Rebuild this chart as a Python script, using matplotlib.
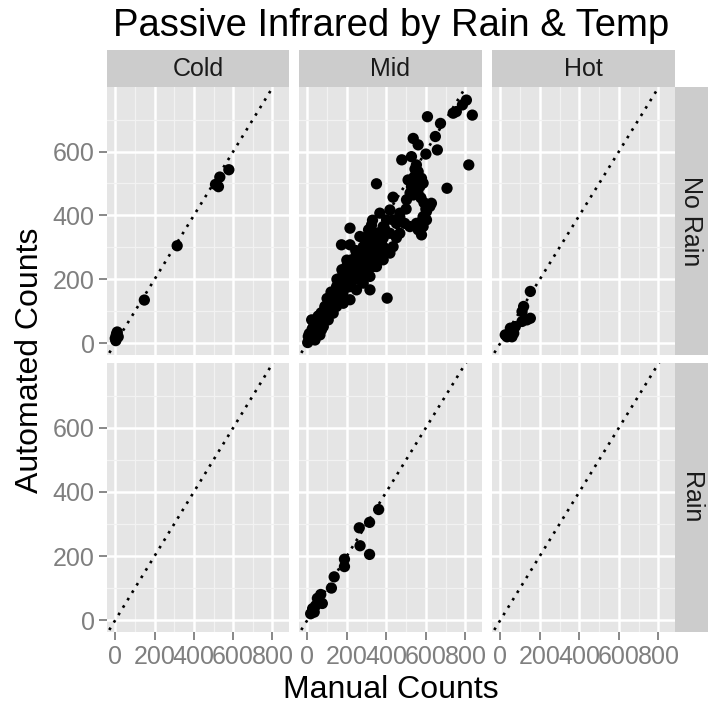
import matplotlib
matplotlib.use("Agg")
import matplotlib.pyplot as plt
import numpy as np

plt.rcParams['font.family'] = ['Liberation Sans', 'DejaVu Sans']

# ---------------- data ----------------
temps = ["Cold", "Mid", "Hot"]
rains = ["No Rain", "Rain"]

cold_norain_manual = [0, 5, 10, 15, 3, 8, 148, 315, 510, 525, 532, 578]
cold_norain_auto = [15, 25, 35, 20, 8, 30, 135, 305, 497, 490, 520, 543]

mid_norain_manual = [805, 785, 754, 738, 835, 608, 674, 648, 536, 561, 658, 600, 527, 478,
                     817, 552, 561, 544, 578, 586, 569, 549, 350, 707, 536, 434, 502, 620,
                     603, 586, 578, 552, 519, 468, 418, 401, 367, 451, 493, 325, 216, 578,
                     350, 418, 468, 384, 333, 173, 216, 434, 384, 418, 317, 367, 291, 333,
                     266, 317, 249, 224, 190, 165, 232, 207, 283, 317, 148, 182, 249, 131,
                     165, 216, 404, 114, 148, 182, 98, 131, 72, 106, 22, 47, 81, 30, 64,
                     5, 2, 39, 249, 283, 300, 266, 510, 527, 628, 603, 586, 561, 434, 384,
                     89, 123, 165, 199, 249, 199, 232, 266, 300, 333, 350, 317, 216, 114,
                     56, 81, 72, 106, 140, 182, 216, 266, 300, 350, 384, 451, 468, 500,
                     540, 555, 560, 575, 590, 600, 545, 530, 520,
                     10, 20, 25, 35, 45, 55, 62, 70, 85, 90, 100, 110, 120, 130, 140, 150,
                     160, 170, 180, 190, 200, 210, 220, 230, 240, 250, 260, 270, 280, 290,
                     300, 310, 320, 330, 345, 360, 375, 390, 120, 100, 150, 175, 200, 245,
                     290, 310, 330]
mid_norain_auto = [761, 746, 725, 720, 714, 709, 688, 647, 641, 621, 605, 592, 584, 574,
                   558, 558, 537, 521, 516, 501, 490, 480, 499, 485, 464, 457, 449, 428,
                   412, 396, 381, 375, 365, 407, 417, 386, 407, 375, 375, 370, 360, 339,
                   344, 344, 344, 329, 334, 308, 308, 302, 302, 282, 276, 282, 250, 240,
                   229, 209, 224, 261, 219, 203, 198, 188, 188, 167, 177, 167, 167, 156,
                   146, 136, 141, 130, 115, 125, 104, 94, 83, 73, 73, 57, 52, 37, 26,
                   21, 2, 10, 282, 302, 323, 334, 511, 490, 438, 386, 365, 355, 386, 365,
                   115, 136, 177, 198, 209, 240, 240, 261, 261, 261, 302, 302, 177, 94,
                   73, 73, 42, 104, 146, 188, 219, 198, 219, 240, 261, 330, 395, 420,
                   520, 500, 470, 455, 440, 420, 545, 500, 470,
                   30, 15, 45, 60, 40, 85, 50, 95, 70, 110, 85, 120, 100, 140, 120, 160,
                   140, 180, 155, 200, 175, 215, 190, 235, 215, 255, 230, 270, 245, 290,
                   265, 310, 285, 330, 300, 345, 320, 360, 160, 140, 200, 230, 260, 290,
                   330, 355, 385]

hot_norain_manual = [152, 118, 110, 152, 135, 110, 51, 68, 34, 25, 59, 76]
hot_norain_auto = [162, 115, 99, 78, 73, 68, 47, 31, 20, 26, 20, 52]

mid_rain_manual = [361, 315, 263, 267, 315, 188, 188, 136, 122, 68, 60, 76, 51, 27, 17, 35, 42]
mid_rain_auto = [345, 305, 288, 232, 205, 190, 167, 135, 100, 80, 57, 52, 68, 36, 20, 25, 45]

panel_data = {
    ("No Rain", "Cold"): (cold_norain_manual, cold_norain_auto),
    ("No Rain", "Mid"): (mid_norain_manual, mid_norain_auto),
    ("No Rain", "Hot"): (hot_norain_manual, hot_norain_auto),
    ("Rain", "Cold"): ([], []),
    ("Rain", "Mid"): (mid_rain_manual, mid_rain_auto),
    ("Rain", "Hot"): ([], []),
}

x_ticks = [0, 200, 400, 600, 800]
y_ticks = [0, 200, 400, 600]

# ---------------- layout ----------------
W, H = 708, 707
fig = plt.figure(figsize=(W / 100, H / 100), dpi=100)
fig.patch.set_facecolor("white")


def rect(x0, x1, y0, y1):
    return [x0 / W, 1 - y1 / H, (x1 - x0) / W, (y1 - y0) / H]


cols_x = [(107, 289), (299, 482), (492, 675)]
rows_y = [(87, 355), (363, 632)]
strip_top = (50, 87)
strip_right = (675, 708)

grey50 = "#7f7f7f"

for ri, rain in enumerate(rains):
    for ci, temp in enumerate(temps):
        x0, x1 = cols_x[ci]
        y0, y1 = rows_y[ri]
        ax = fig.add_axes(rect(x0, x1, y0, y1))
        ax.set_facecolor("#e5e5e5")
        for s in ax.spines.values():
            s.set_visible(False)
        ax.set_xlim(-42, 884)
        ax.set_ylim(-37, 802)
        ax.set_xticks(x_ticks)
        ax.set_xticks([100, 300, 500, 700], minor=True)
        ax.set_yticks(y_ticks)
        ax.set_yticks([100, 300, 500, 700], minor=True)
        ax.set_axisbelow(True)
        ax.grid(which="major", color="white", lw=1.8)
        ax.grid(which="minor", color="#f2f2f2", lw=0.9)
        ax.tick_params(which="minor", length=0)
        if ci == 0:
            ax.tick_params(axis="y", which="major", length=6, width=1.3, color=grey50,
                           labelcolor=grey50, labelsize=18, pad=3)
        else:
            ax.tick_params(axis="y", which="major", length=0, labelleft=False)
        if ri == len(rains) - 1:
            ax.tick_params(axis="x", which="major", length=6, width=1.3, color=grey50,
                           labelcolor=grey50, labelsize=18, pad=3)
        else:
            ax.tick_params(axis="x", which="major", length=0, labelbottom=False)
        ax.plot([-100, 1000], [-100, 1000], color="black", lw=1.9,
                linestyle=(0, (1, 2.3)), zorder=2)
        mx, au = panel_data[(rain, temp)]
        if len(mx):
            ax.scatter(mx, au, s=66, color="black", edgecolors="none", zorder=3)

# top strips
for ci, temp in enumerate(temps):
    x0, x1 = cols_x[ci]
    sax = fig.add_axes(rect(x0, x1, strip_top[0], strip_top[1]))
    sax.set_facecolor("#cccccc")
    sax.set_xticks([]); sax.set_yticks([])
    for s in sax.spines.values():
        s.set_visible(False)
    sax.text(0.5, 0.5, temp, ha="center", va="center", fontsize=18,
             color="#1a1a1a", transform=sax.transAxes)

# right strips
for ri, rain in enumerate(rains):
    y0, y1 = rows_y[ri]
    sax = fig.add_axes(rect(strip_right[0], strip_right[1], y0, y1))
    sax.set_facecolor("#cccccc")
    sax.set_xticks([]); sax.set_yticks([])
    for s in sax.spines.values():
        s.set_visible(False)
    sax.text(0.5, 0.5, rain, ha="center", va="center", fontsize=18, rotation=-90,
             color="#1a1a1a", transform=sax.transAxes)

# titles
fig.text(391 / W, 1 - 26 / H, "Passive Infrared by Rain & Temp", ha="center",
         va="center", fontsize=27.5, color="black")
fig.text(391 / W, 1 - 690 / H, "Manual Counts", ha="center", va="center",
         fontsize=23, color="black")
fig.text(30 / W, 1 - 360 / H, "Automated Counts", ha="center", va="center",
         fontsize=23, rotation=90, color="black")

fig.savefig("out.png", dpi=100)
